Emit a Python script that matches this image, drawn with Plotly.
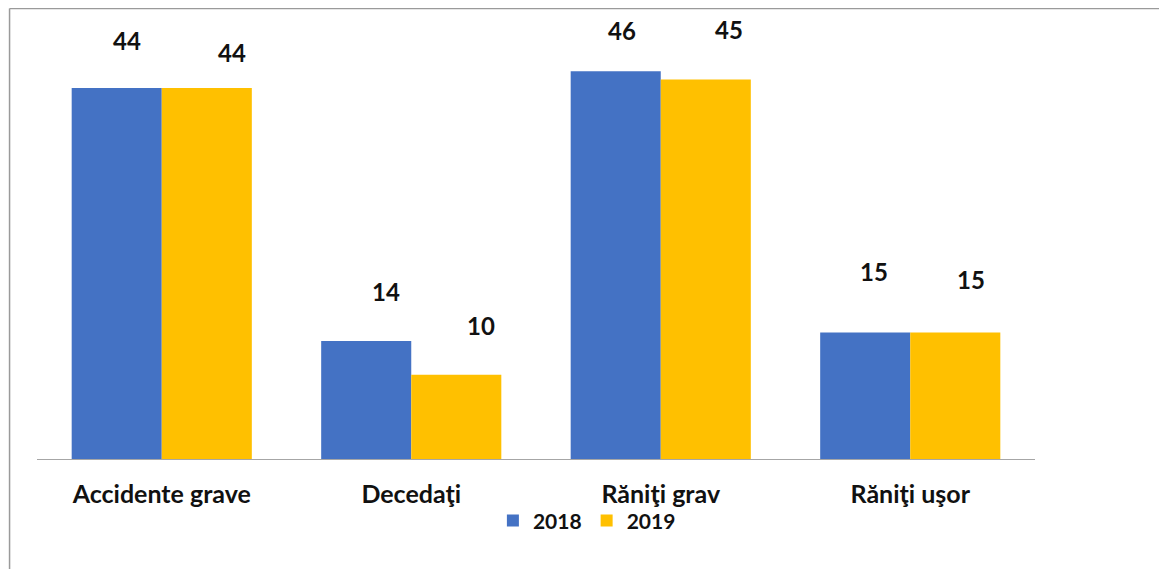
import plotly.graph_objects as go

categories = ["Accidente grave", "Decedaţi", "Răniţi grav", "Răniţi uşor"]
series_names = ["2018", "2019"]
values_2018 = [44, 14, 46, 15]
values_2019 = [44, 10, 45, 15]

colors = {"2018": "#4472C4", "2019": "#FFC000"}
FONT = "Lato, 'Noto Sans', sans-serif"

fig = go.Figure()
for name, vals in zip(series_names, [values_2018, values_2019]):
    fig.add_trace(go.Bar(
        x=categories, y=vals, name=name,
        marker=dict(color=colors[name], line=dict(width=0)),
    ))

# value-label placement offsets (pixels), mimicking the reference
label_offsets = {
    "2018": dict(dx=[-35, -25, -39, -36], dy=[48, 49, 41, 61]),
    "2019": dict(dx=[70, 70, 68, 61], dy=[36, 49, 50, 53]),
}
for name, vals in zip(series_names, [values_2018, values_2019]):
    off = label_offsets[name]
    for c, v, dx, dy in zip(categories, vals, off["dx"], off["dy"]):
        fig.add_annotation(
            x=c, y=v, xshift=dx, yshift=dy, text=str(v), showarrow=False,
            font=dict(family=FONT, size=24, color="#111111", weight="bold"),
        )

fig.update_layout(
    width=1159, height=561,
    margin=dict(l=29, r=132, t=12, b=110),
    paper_bgcolor="white", plot_bgcolor="white",
    barmode="group", bargap=0.278, bargroupgap=0,
    font=dict(family=FONT, color="#111111"),
    showlegend=True,
    legend=dict(orientation="h", x=0.551, xanchor="center", y=-0.141, yanchor="middle",
                bgcolor="rgba(0,0,0,0)",
                font=dict(family=FONT, size=21, weight="bold"),
                itemwidth=30, traceorder="normal"),
    xaxis=dict(showline=True, linecolor="#A6A6A6", linewidth=1, ticks="",
               ticklabelstandoff=13,
               tickfont=dict(family=FONT, size=25, weight="bold"), showgrid=False),
    yaxis=dict(range=[0, 52.07], visible=False, showgrid=False),
    shapes=[
        dict(type="line", xref="paper", yref="paper", x0=-0.0275, x1=-0.0275, y0=-0.26, y1=1.026,
             line=dict(color="#9A9A9A", width=1.5)),
        dict(type="line", xref="paper", yref="paper", x0=-0.0275, x1=1.14, y0=1.026, y1=1.026,
             line=dict(color="#9A9A9A", width=1.5)),
    ],
)

fig.write_html("out.html")
